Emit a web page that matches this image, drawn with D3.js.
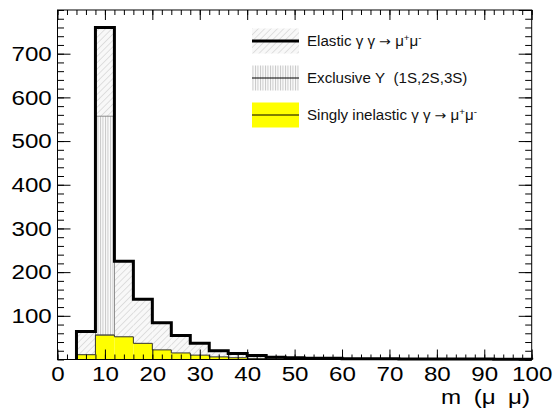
<!DOCTYPE html>
<html>
<head>
<meta charset="utf-8">
<script src="https://cdn.jsdelivr.net/npm/d3@7"></script>
<style>
body { margin: 0; background: #fff; }
text { font-family: "Liberation Sans", Arial, sans-serif; }
</style>
</head>
<body>
<script>
// bin lower edges (GeV), every bin is 4 wide
var binLow = [4, 8, 12, 16, 20, 24, 28, 32, 36, 40, 44, 48, 52, 56, 60, 64, 68, 72, 76, 80, 84, 88, 92, 96];
var binWidth = 4;

// events per bin
var inelastic = [11, 56, 52, 37, 22, 15, 10, 6, 4, 2.5, 1.5, 1, 0.8, 0.6, 0.5, 0.4, 0.3, 0.3, 0.2, 0.2, 0.2, 0.1, 0.1, 0.1];
var upsilon   = [0, 501, 0, 0, 0, 0, 0, 0, 0, 0, 0, 0, 0, 0, 0, 0, 0, 0, 0, 0, 0, 0, 0, 0];
var elastic   = [53, 203, 173, 101, 62, 40, 27, 14, 10, 6.5, 3.5, 3, 2.2, 2.4, 1.5, 1.6, 1.2, 0.9, 0.8, 0.8, 0.8, 0.9, 0.4, 0.4];

var xLabels = [0, 10, 20, 30, 40, 50, 60, 70, 80, 90, 100];
var yLabels = [100, 200, 300, 400, 500, 600, 700];

var w = 553;
var h = 409;
var stretch = 1.15;

var x = d3.scaleLinear().domain([0, 100]).range([57.5, 531.7]);
var y = d3.scaleLinear().domain([0, 800]).range([359.5, 10]);

var svg = d3.select("body")
            .append("svg")
            .attr("width", w)
            .attr("height", h);

// hatch patterns
var defs = svg.append("defs");
var diag = defs.append("pattern")
    .attr("id", "diag")
    .attr("patternUnits", "userSpaceOnUse")
    .attr("width", 4.5)
    .attr("height", 4.5)
    .attr("patternTransform", "rotate(45)");
diag.append("rect").attr("width", 4.5).attr("height", 4.5).attr("fill", "#f8f8f8");
diag.append("line").attr("x1", 0).attr("y1", 0).attr("x2", 0).attr("y2", 4.5)
    .attr("stroke", "#cfcfcf").attr("stroke-width", 1.2);

var vert = defs.append("pattern")
    .attr("id", "vert")
    .attr("patternUnits", "userSpaceOnUse")
    .attr("width", 2.5)
    .attr("height", 10);
vert.append("rect").attr("width", 2.5).attr("height", 10).attr("fill", "#fafafa");
vert.append("line").attr("x1", 0.5).attr("y1", 0).attr("x2", 0.5).attr("y2", 10)
    .attr("stroke", "#b8b8b8").attr("stroke-width", 0.8);

// stack table
var table = binLow.map(function(d, i) {
    return {low: d, inelastic: inelastic[i], upsilon: upsilon[i], elastic: elastic[i]};
});
var keys = ["inelastic", "upsilon", "elastic"];
var fills = {inelastic: "#ffff00", upsilon: "url(#vert)", elastic: "url(#diag)"};
var stacked = d3.stack().keys(keys)(table);

svg.append("g").selectAll("g")
    .data(stacked.slice().reverse())
    .enter()
    .append("g")
    .attr("fill", function(s) { return fills[s.key]; })
    .selectAll("rect")
    .data(function(s) { return s; })
    .enter()
    .append("rect")
        .attr("x", function(d) { return x(d.data.low); })
        .attr("width", function(d) { return x(d.data.low + binWidth) - x(d.data.low); })
        .attr("y", function(d) { return y(d[1]); })
        .attr("height", function(d) { return y(d[0]) - y(d[1]); });

// step outlines
function stepPts(vals) {
    var pts = [[binLow[0], 0]];
    binLow.forEach(function(d, i) { pts.push([d, vals[i]]); });
    var last = binLow[binLow.length - 1] + binWidth;
    pts.push([last, vals[vals.length - 1]]);
    pts.push([last, 0]);
    return pts;
}
var step = d3.line()
    .x(function(d) { return x(d[0]); })
    .y(function(d) { return y(d[1]); })
    .curve(d3.curveStepAfter);

var total = stacked[2].map(function(d) { return d[1]; });

// upsilon bin edges (thin grey)
stacked[1].forEach(function(d) {
    if (d[1] - d[0] > 0) {
        svg.append("rect")
            .attr("x", x(d.data.low))
            .attr("y", y(d[1]))
            .attr("width", x(d.data.low + binWidth) - x(d.data.low))
            .attr("height", y(d[0]) - y(d[1]))
            .attr("fill", "none")
            .attr("stroke", "#777")
            .attr("stroke-width", 0.8);
    }
});

svg.append("path")
    .attr("d", step(stepPts(inelastic)))
    .attr("fill", "none")
    .attr("stroke", "#333")
    .attr("stroke-width", 1);

svg.append("path")
    .attr("d", step(stepPts(total)))
    .attr("fill", "none")
    .attr("stroke", "#000")
    .attr("stroke-width", 3);

// frame
svg.append("rect")
    .attr("x", x(0))
    .attr("y", y(800))
    .attr("width", x(100) - x(0))
    .attr("height", y(0) - y(800))
    .attr("fill", "none")
    .attr("stroke", "#000")
    .attr("stroke-width", 1);

// axes, ticks inward on all four sides
function clean(g) { g.select(".domain").remove(); g.selectAll("line").attr("stroke", "#000"); }

svg.append("g").attr("transform", "translate(0," + y(0) + ")")
    .call(d3.axisBottom(x).tickValues(d3.range(0, 101, 2)).tickSize(-5).tickFormat(""))
    .call(clean);
svg.append("g").attr("transform", "translate(0," + y(0) + ")")
    .call(d3.axisBottom(x).tickValues(xLabels).tickSize(-10).tickPadding(7).tickFormat(d3.format("d")))
    .call(clean)
    .selectAll("text")
        .attr("font-size", 21)
        .attr("fill", "#000")
        .attr("transform", "scale(" + stretch + ",1)");

svg.append("g").attr("transform", "translate(0," + y(800) + ")")
    .call(d3.axisTop(x).tickValues(d3.range(0, 101, 2)).tickSize(-5).tickFormat(""))
    .call(clean);
svg.append("g").attr("transform", "translate(0," + y(800) + ")")
    .call(d3.axisTop(x).tickValues(xLabels).tickSize(-10).tickFormat(""))
    .call(clean);

svg.append("g").attr("transform", "translate(" + x(0) + ",0)")
    .call(d3.axisLeft(y).tickValues(d3.range(0, 801, 20)).tickSize(-6.5).tickFormat(""))
    .call(clean);
svg.append("g").attr("transform", "translate(" + x(0) + ",0)")
    .call(d3.axisLeft(y).tickValues(yLabels).tickSize(-13).tickPadding(5).tickFormat(d3.format("d")))
    .call(clean)
    .selectAll("text")
        .attr("font-size", 21)
        .attr("fill", "#000")
        .attr("transform", "scale(" + stretch + ",1)");

svg.append("g").attr("transform", "translate(" + x(100) + ",0)")
    .call(d3.axisRight(y).tickValues(d3.range(0, 801, 20)).tickSize(-6.5).tickFormat(""))
    .call(clean);
svg.append("g").attr("transform", "translate(" + x(100) + ",0)")
    .call(d3.axisRight(y).tickValues(d3.range(0, 801, 100)).tickSize(-13).tickFormat(""))
    .call(clean);

// x title
svg.append("text")
    .attr("x", 530 / stretch)
    .attr("y", 404)
    .attr("text-anchor", "end")
    .attr("font-size", 21)
    .attr("word-spacing", 5)
    .attr("transform", "scale(" + stretch + ",1)")
    .text("m (\u03bc \u03bc)");

// legend
var arrowFont = "DejaVu Sans";
var legendItems = [
    {fill: "url(#diag)", line: 3, parts: [["Elastic \u03b3 \u03b3 ", 0], ["\u2192", 2], [" \u03bc", 0], ["+", 1], ["\u03bc", 0], ["-", 1]]},
    {fill: "url(#vert)", line: 1, parts: [["Exclusive \u03a5\u00a0\u00a0(1S,2S,3S)", 0]]},
    {fill: "#ffff00", line: 1, parts: [["Singly inelastic \u03b3 \u03b3 ", 0], ["\u2192", 2], [" \u03bc", 0], ["+", 1], ["\u03bc", 0], ["-", 1]]}
];

var leg = svg.append("g");
legendItems.forEach(function(item, i) {
    var cy = 41 + i * 37;
    leg.append("rect")
        .attr("x", 252).attr("y", cy - 12.5)
        .attr("width", 47).attr("height", 25)
        .attr("fill", item.fill);
    leg.append("line")
        .attr("x1", 252).attr("x2", 299)
        .attr("y1", cy).attr("y2", cy)
        .attr("stroke", "#000")
        .attr("stroke-width", item.line);
    var t = leg.append("text")
        .attr("x", 307 / 1.08)
        .attr("y", cy + 5)
        .attr("font-size", 14)
        .attr("fill", "#111")
        .attr("transform", "scale(1.08,1)");
    item.parts.forEach(function(p) {
        var s = t.append("tspan")
            .attr("font-size", p[1] == 1 ? 9 : (p[1] == 2 ? 13 : 14))
            .attr("baseline-shift", p[1] == 1 ? "55%" : "0")
            .text(p[0]);
        if (p[1] == 2) s.attr("font-family", arrowFont);
    });
});
</script>
</body>
</html>
